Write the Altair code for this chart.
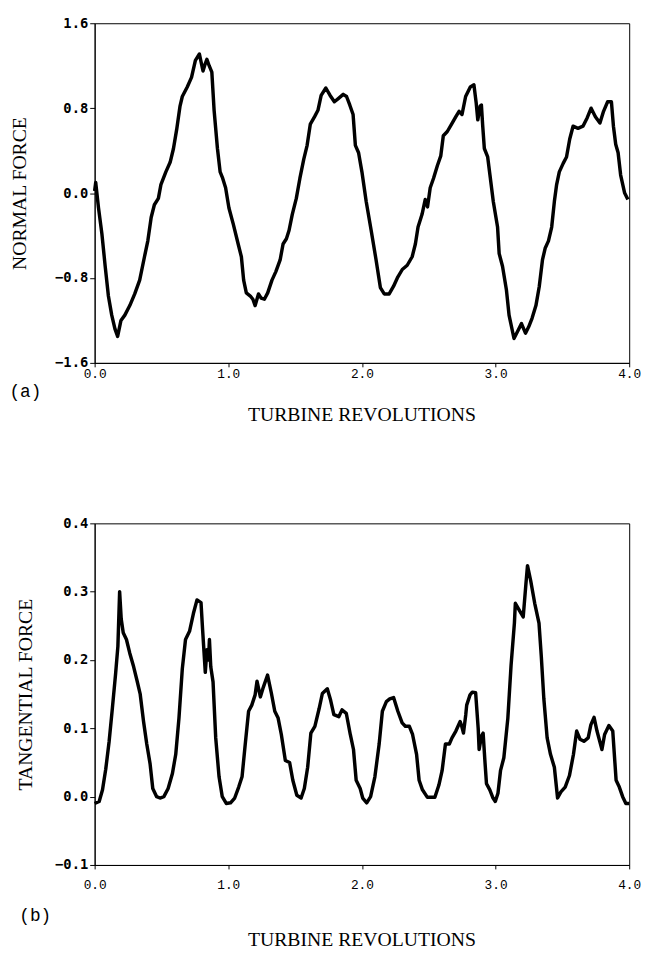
import altair as alt
import pandas as pd

# ---------------- data ----------------
top_rev = [0.000, 0.008, 0.029, 0.054, 0.079, 0.103, 0.128, 0.152, 0.172, 0.197,
           0.226, 0.263, 0.300, 0.337, 0.373, 0.398, 0.423, 0.447, 0.477, 0.496,
           0.533, 0.565, 0.590, 0.614, 0.639, 0.656, 0.693, 0.725, 0.754, 0.784,
           0.811, 0.828, 0.840, 0.857, 0.877, 0.894, 0.919, 0.939, 0.958, 0.980,
           1.005, 1.037, 1.074, 1.098, 1.115, 1.135, 1.165, 1.184, 1.201, 1.226,
           1.246, 1.270, 1.295, 1.327, 1.356, 1.388, 1.410, 1.435, 1.455, 1.479,
           1.509, 1.536, 1.565, 1.590, 1.614, 1.646, 1.671, 1.695, 1.730, 1.762,
           1.794, 1.823, 1.860, 1.885, 1.909, 1.934, 1.951, 1.975, 2.000, 2.032,
           2.069, 2.106, 2.138, 2.167, 2.204, 2.236, 2.265, 2.302, 2.339, 2.376,
           2.400, 2.420, 2.450, 2.474, 2.491, 2.511, 2.536, 2.565, 2.590, 2.609,
           2.639, 2.671, 2.703, 2.727, 2.749, 2.776, 2.811, 2.838, 2.855, 2.867,
           2.885, 2.894, 2.904, 2.916, 2.941, 2.958, 2.983, 3.015, 3.027, 3.052,
           3.081, 3.101, 3.138, 3.170, 3.194, 3.224, 3.248, 3.273, 3.302, 3.327,
           3.351, 3.371, 3.396, 3.420, 3.440, 3.457, 3.477, 3.506, 3.531, 3.555,
           3.580, 3.617, 3.654, 3.686, 3.715, 3.747, 3.781, 3.808, 3.838, 3.867,
           3.882, 3.899, 3.917, 3.936, 3.966, 3.990]
top_val = [0.02, 0.10, -0.14, -0.38, -0.69, -0.97, -1.15, -1.28, -1.35, -1.20,
           -1.15, -1.06, -0.95, -0.82, -0.60, -0.45, -0.23, -0.11, -0.05, 0.08,
           0.20, 0.29, 0.42, 0.60, 0.82, 0.91, 1.00, 1.09, 1.25, 1.31,
           1.15, 1.22, 1.26, 1.20, 1.14, 0.78, 0.42, 0.20, 0.14, 0.05,
           -0.14, -0.29, -0.48, -0.60, -0.82, -0.94, -0.97, -1.00, -1.06, -0.95,
           -0.99, -1.00, -0.94, -0.82, -0.74, -0.63, -0.48, -0.43, -0.35, -0.20,
           -0.05, 0.14, 0.32, 0.45, 0.65, 0.72, 0.78, 0.92, 0.99, 0.92,
           0.86, 0.89, 0.93, 0.91, 0.83, 0.74, 0.45, 0.38, 0.20, -0.08,
           -0.35, -0.63, -0.89, -0.95, -0.95, -0.88, -0.80, -0.72, -0.68, -0.60,
           -0.48, -0.32, -0.20, -0.06, -0.13, 0.05, 0.14, 0.26, 0.35, 0.54,
           0.58, 0.65, 0.72, 0.77, 0.74, 0.91, 1.00, 1.02, 0.85, 0.69,
           0.82, 0.83, 0.63, 0.42, 0.34, 0.17, -0.08, -0.32, -0.57, -0.69,
           -0.91, -1.15, -1.37, -1.29, -1.23, -1.32, -1.26, -1.18, -1.06, -0.88,
           -0.63, -0.52, -0.45, -0.32, -0.08, 0.08, 0.20, 0.28, 0.34, 0.51,
           0.63, 0.61, 0.63, 0.71, 0.80, 0.72, 0.66, 0.77, 0.86, 0.86,
           0.63, 0.46, 0.38, 0.17, 0.00, -0.06]

bot_rev = [0.000, 0.034, 0.059, 0.083, 0.108, 0.133, 0.157, 0.174, 0.187, 0.199,
           0.214, 0.238, 0.263, 0.292, 0.317, 0.341, 0.366, 0.390, 0.415, 0.435,
           0.464, 0.489, 0.518, 0.550, 0.582, 0.607, 0.631, 0.656, 0.680, 0.710,
           0.739, 0.766, 0.796, 0.808, 0.828, 0.840, 0.852, 0.859, 0.869, 0.886,
           0.906, 0.931, 0.955, 0.985, 1.017, 1.048, 1.078, 1.103, 1.127, 1.152,
           1.176, 1.201, 1.215, 1.240, 1.262, 1.294, 1.323, 1.348, 1.373, 1.397,
           1.427, 1.459, 1.483, 1.513, 1.545, 1.569, 1.594, 1.618, 1.648, 1.680,
           1.704, 1.741, 1.766, 1.790, 1.827, 1.851, 1.883, 1.913, 1.937, 1.957,
           1.987, 2.006, 2.036, 2.065, 2.097, 2.129, 2.153, 2.183, 2.208, 2.237,
           2.269, 2.301, 2.325, 2.355, 2.379, 2.409, 2.428, 2.453, 2.490, 2.514,
           2.546, 2.576, 2.600, 2.625, 2.654, 2.674, 2.703, 2.735, 2.747, 2.760,
           2.777, 2.784, 2.809, 2.826, 2.851, 2.870, 2.877, 2.895, 2.907, 2.920,
           2.932, 2.957, 2.981, 2.998, 3.018, 3.037, 3.062, 3.092, 3.116, 3.141,
           3.148, 3.177, 3.207, 3.227, 3.239, 3.263, 3.293, 3.325, 3.342, 3.361,
           3.386, 3.411, 3.440, 3.464, 3.489, 3.521, 3.553, 3.583, 3.607, 3.632,
           3.661, 3.693, 3.713, 3.737, 3.759, 3.796, 3.816, 3.848, 3.877, 3.902,
           3.926, 3.951, 3.975, 4.000]
bot_val = [-0.010, -0.007, 0.010, 0.040, 0.080, 0.130, 0.180, 0.220, 0.300, 0.260,
           0.240, 0.230, 0.210, 0.190, 0.170, 0.150, 0.110, 0.077, 0.048, 0.012,
           0.000, -0.002, 0.000, 0.012, 0.034, 0.062, 0.115, 0.187, 0.230, 0.242,
           0.268, 0.288, 0.284, 0.244, 0.182, 0.215, 0.200, 0.230, 0.190, 0.168,
           0.086, 0.029, 0.000, -0.010, -0.009, -0.002, 0.014, 0.029, 0.077, 0.125,
           0.134, 0.149, 0.169, 0.146, 0.160, 0.178, 0.151, 0.125, 0.115, 0.091,
           0.053, 0.050, 0.024, 0.002, -0.002, 0.012, 0.043, 0.093, 0.103, 0.129,
           0.151, 0.158, 0.141, 0.120, 0.117, 0.127, 0.122, 0.091, 0.069, 0.024,
           0.012, -0.002, -0.009, 0.000, 0.029, 0.077, 0.125, 0.139, 0.143, 0.145,
           0.125, 0.108, 0.103, 0.103, 0.091, 0.062, 0.024, 0.010, -0.001, -0.001,
           -0.001, 0.017, 0.038, 0.077, 0.077, 0.086, 0.096, 0.110, 0.103, 0.093,
           0.120, 0.134, 0.149, 0.153, 0.152, 0.100, 0.069, 0.089, 0.093, 0.053,
           0.019, 0.010, -0.002, -0.007, 0.005, 0.038, 0.057, 0.115, 0.192, 0.254,
           0.283, 0.273, 0.263, 0.311, 0.338, 0.316, 0.283, 0.254, 0.206, 0.144,
           0.086, 0.062, 0.043, -0.002, 0.007, 0.014, 0.031, 0.062, 0.096, 0.084,
           0.081, 0.086, 0.105, 0.116, 0.096, 0.069, 0.091, 0.104, 0.096, 0.024,
           0.014, 0.000, -0.010, -0.010]

x_ticks = [0, 1, 2, 3, 4]
top_y_ticks = [-1.6, -0.8, 0.0, 0.8, 1.6]
bot_y_ticks = [-0.1, 0.0, 0.1, 0.2, 0.3, 0.4]

SERIF = "Liberation Serif"
MONO = "Liberation Mono"
SANSMONO = "DejaVu Sans Mono"


def panel(rev, val, ylabel, tag, ydomain, yticks, h, lab_pad, tag_x, tag_y,
          ytitle_x, title_offset):
    df = pd.DataFrame({"rev": rev, "val": val})
    return alt.Chart(df).mark_line(
        color="black", strokeWidth=3.5, strokeJoin="round"
    ).encode(
        x=alt.X("rev:Q",
                scale=alt.Scale(domain=[0, 4], nice=False, zero=False),
                axis=alt.Axis(values=x_ticks, format=".1f", title=tag,
                              titleX=tag_x, titleY=tag_y, titleAlign="left",
                              titleBaseline="middle", titleFont=MONO,
                              titleFontSize=18, titleFontWeight="normal",
                              labelFont=MONO, labelFontSize=13,
                              labelPadding=lab_pad, tickSize=4,
                              labelFlush=False, labelOverlap=False)),
        y=alt.Y("val:Q",
                scale=alt.Scale(domain=ydomain, nice=False, zero=False),
                axis=alt.Axis(values=yticks, format=".1f", title=ylabel,
                              titleX=ytitle_x, titleAngle=270,
                              titleAlign="center", titleBaseline="middle",
                              titleFont=SERIF, titleFontSize=20,
                              titleFontWeight="normal", labelFont=SANSMONO,
                              labelFontSize=14, labelFontWeight="bold",
                              tickSize=5, labelPadding=2, labelFlush=False,
                              labelOverlap=False)),
    ).properties(
        width=543, height=h,
        title=alt.TitleParams("TURBINE REVOLUTIONS", orient="bottom",
                              anchor="middle", frame="group", font=SERIF,
                              fontSize=20, fontWeight="normal",
                              offset=title_offset, color="black"),
    )


top = panel(top_rev, top_val, "NORMAL FORCE", "(a)", [-1.6, 1.6], top_y_ticks,
            345, 1, -87, 29, -76, 5)
bot = panel(bot_rev, bot_val, "TANGENTIAL FORCE", "(b)", [-0.1, 0.4], bot_y_ticks,
            347, 10, -77, 51, -70, 6)

chart = alt.vconcat(top, bot, spacing=91).properties(
    padding={"left": 0, "top": 0, "right": 0, "bottom": 0}
).configure_view(
    stroke="black", strokeWidth=1
).configure_axis(
    grid=False, domainColor="black", tickColor="black",
    labelColor="black", titleColor="black"
)

chart.save("out.html", embed_options={"renderer": "svg", "actions": False})
